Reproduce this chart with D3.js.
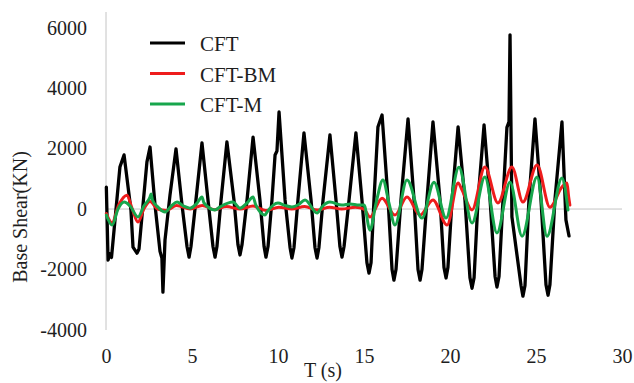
<!DOCTYPE html>
<html>
<head>
<meta charset="utf-8">
<script src="https://cdn.jsdelivr.net/npm/d3@7"></script>
<style>
  body { margin: 0; background: #fff; }
  svg text { font-family: "Liberation Serif", "Times New Roman", serif !important; fill: #1e1e1e; }
</style>
</head>
<body>
<svg id="chart" width="634" height="383"></svg>
<script>
// Axis ticks
const xTicks = [0, 5, 10, 15, 20, 25, 30];
const yTicks = [-4000, -2000, 0, 2000, 4000, 6000];

// Series names and colours
const seriesNames = ["CFT", "CFT-BM", "CFT-M"];
const seriesColors = ["#000000", "#ee1c1c", "#17a64c"];

// Base shear time histories: [time (s), base shear (kN)]
const cftData = [
  [0.02,720],[0.12,-1690],[0.23,-1480],[0.32,-1600],[0.81,1390],[1.05,1790],[1.45,-30],[1.57,-1260],[1.80,-1460],[1.92,-1320],
  [2.15,130],[2.38,1560],[2.56,2050],[2.85,130],[3.14,-1400],[3.25,-1620],[3.31,-2750],[3.43,-1030],[3.72,460],[4.07,1990],
  [4.42,130],[4.71,-1240],[4.83,-1590],[4.94,-1240],[5.23,300],[5.58,2190],[5.93,300],[6.22,-1240],[6.34,-1590],[6.45,-1240],
  [6.69,300],[7.03,2220],[7.44,300],[7.67,-1170],[7.79,-1520],[7.91,-1170],[8.20,300],[8.55,2380],[8.95,300],[9.19,-1240],
  [9.30,-1590],[9.42,-1240],[9.65,300],[9.83,1790],[9.94,1920],[10.06,3210],[10.41,300],[10.70,-1270],[10.81,-1620],[10.93,-1270],
  [11.16,300],[11.51,2520],[11.92,300],[12.15,-1270],[12.27,-1620],[12.38,-1270],[12.62,300],[13.02,2450],[13.37,300],[13.60,-1240],
  [13.72,-1590],[13.84,-1240],[14.13,300],[14.53,2520],[14.88,300],[15.17,-1770],[15.29,-2120],[15.41,-1770],[15.58,300],[15.81,2710],
  [16.05,3110],[16.40,300],[16.63,-2000],[16.74,-2350],[16.86,-2000],[17.15,300],[17.56,2980],[17.91,300],[18.14,-2000],[18.26,-2350],
  [18.37,-2000],[18.66,300],[19.01,2880],[19.42,300],[19.65,-1930],[19.77,-2280],[19.88,-1930],[20.12,300],[20.47,2720],[20.87,300],
  [21.16,-2270],[21.28,-2620],[21.40,-2270],[21.63,300],[21.98,2780],[22.33,300],[22.62,-2230],[22.73,-2580],[22.85,-2230],[23.08,300],
  [23.31,2700],[23.43,2880],[23.49,5760],[23.60,-260],[24.13,-2530],[24.24,-2880],[24.36,-2530],[24.59,300],[24.94,2980],[25.29,300],
  [25.58,-2500],[25.70,-2850],[25.81,-2500],[26.10,300],[26.51,2880],[26.74,-360],[26.92,-890]
];

const cftBmData = [
  [0.02,-150],[0.35,-450],[0.75,150],[1.22,460],[1.50,50],[1.86,-430],[2.20,0],[2.56,250],[3.00,0],[3.50,-50],
  [4.10,120],[4.90,0],[5.60,120],[6.30,-20],[7.00,80],[7.80,0],[8.55,100],[9.30,-50],[10.05,60],[10.80,0],
  [11.55,80],[12.30,-30],[13.00,60],[13.70,0],[14.50,60],[15.00,0],[15.35,-260],[16.05,360],[16.80,-200],[17.50,400],
  [18.26,-200],[19.01,300],[19.83,-530],[20.47,860],[20.70,630],[21.28,-30],[22.03,1390],[22.79,200],[23.60,1390],[24.24,230],
  [25.06,1460],[25.81,60],[26.51,730],[26.80,860],[26.90,400],[26.97,130]
];

const cftMData = [
  [0.02,-200],[0.35,-530],[0.70,0],[1.05,230],[1.40,100],[1.86,-260],[2.20,100],[2.56,400],[2.62,500],[2.70,300],
  [3.05,50],[3.43,-100],[3.80,100],[4.13,230],[4.50,100],[4.88,30],[5.30,200],[5.58,400],[5.70,200],[6.34,-30],
  [6.63,70],[7.38,230],[7.79,30],[8.20,200],[8.55,400],[8.70,150],[9.24,-200],[9.36,-100],[10.00,200],[10.40,120],
  [10.81,70],[11.20,150],[11.57,300],[12.27,-130],[12.60,100],[13.02,230],[13.72,130],[14.20,170],[14.70,130],[15.00,130],
  [15.35,-700],[15.70,200],[16.10,960],[16.45,200],[16.80,-530],[17.50,960],[18.37,-300],[19.07,890],[19.77,-300],[20.52,1380],
  [21.28,-460],[22.03,1060],[22.73,-790],[23.49,890],[24.19,-900],[25.06,1060],[25.64,-900],[26.51,1030],[26.86,-30]
];

const serif = '"Liberation Serif", "Times New Roman", serif';

const svg = d3.select("#chart");
svg.append("rect").attr("width", 634).attr("height", 383).attr("fill", "#fff");

const x = d3.scaleLinear().domain([0, 30]).range([106, 622]);
const y = d3.scaleLinear().domain([-4000, 6000]).range([330, 27.6]);

// Vertical axis line and zero baseline
svg.append("line")
  .attr("x1", x(0)).attr("x2", x(0))
  .attr("y1", 12).attr("y2", y(-4000))
  .attr("stroke", "#c4c4c4").attr("stroke-width", 1);
svg.append("line")
  .attr("x1", x(0)).attr("x2", x(30))
  .attr("y1", y(0)).attr("y2", y(0))
  .attr("stroke", "#c4c4c4").attr("stroke-width", 1);

const plainNumber = d => String(d);

// Y tick labels
const yAxis = svg.append("g")
  .attr("transform", `translate(${x(0)},0)`)
  .call(d3.axisLeft(y).tickValues(yTicks).tickSize(0).tickPadding(19).tickFormat(plainNumber));
yAxis.attr("font-family", null).attr("font-size", null);
yAxis.select(".domain").remove();
yAxis.selectAll("text")
  .style("font-family", serif)
  .style("font-size", "20px").attr("fill", "#1e1e1e");

// X tick labels
const xAxis = svg.append("g")
  .attr("transform", `translate(0,${y(-4000)})`)
  .call(d3.axisBottom(x).tickValues(xTicks).tickSize(0).tickPadding(19).tickFormat(plainNumber));
xAxis.attr("font-family", null).attr("font-size", null);
xAxis.select(".domain").remove();
xAxis.selectAll("text")
  .style("font-family", serif)
  .style("font-size", "20px").attr("fill", "#1e1e1e");

// Axis titles
svg.append("text")
  .attr("transform", "translate(27,217) rotate(-90)")
  .attr("text-anchor", "middle")
  .style("font-size", "20px")
  .text("Base Shear(KN)");
svg.append("text")
  .attr("x", 323).attr("y", 377)
  .attr("text-anchor", "middle")
  .style("font-size", "20px")
  .text("T (s)");

// Series lines
const sharpLine = d3.line().x(d => x(d[0])).y(d => y(d[1]));
const smoothLine = d3.line().x(d => x(d[0])).y(d => y(d[1])).curve(d3.curveMonotoneX);

const series = [
  { data: cftData, gen: sharpLine, width: 3.3 },
  { data: cftBmData, gen: smoothLine, width: 3 },
  { data: cftMData, gen: smoothLine, width: 3 }
];
series.forEach((s, i) => {
  svg.append("path")
    .datum(s.data)
    .attr("d", s.gen)
    .attr("fill", "none")
    .attr("stroke", seriesColors[i])
    .attr("stroke-width", s.width)
    .attr("stroke-linejoin", "round")
    .attr("stroke-linecap", "round");
});

// Legend
const legend = svg.append("g");
seriesNames.forEach((name, i) => {
  const ly = 43 + i * 30.5;
  legend.append("line")
    .attr("x1", 150).attr("x2", 185)
    .attr("y1", ly).attr("y2", ly)
    .attr("stroke", seriesColors[i]).attr("stroke-width", 3);
  legend.append("text")
    .attr("x", 200).attr("y", ly + 8)
    .style("font-size", "21px")
    .text(name);
});
</script>
</body>
</html>
